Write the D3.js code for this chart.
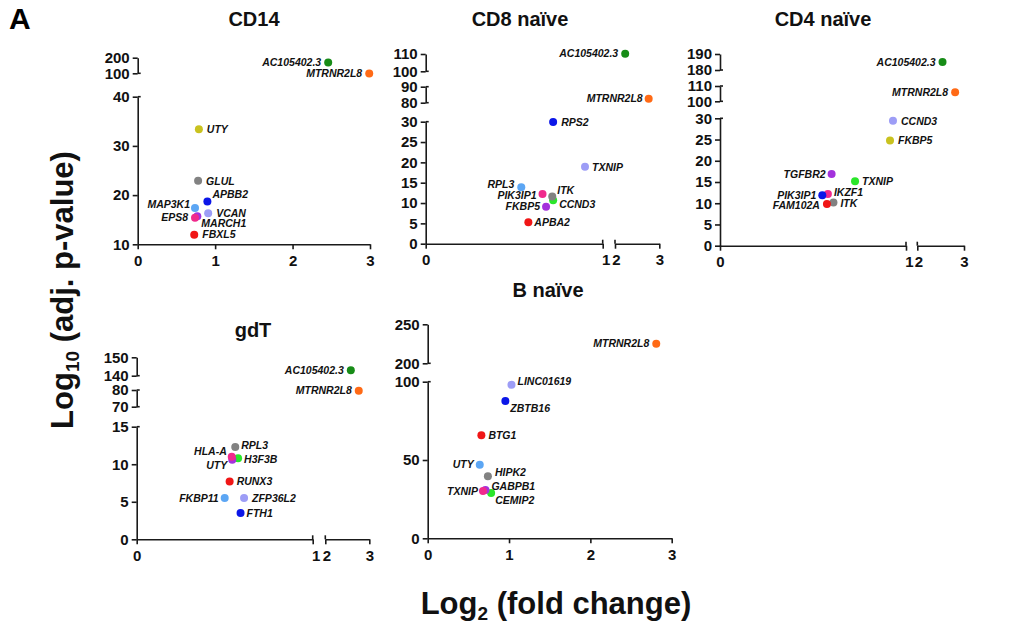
<!DOCTYPE html>
<html>
<head>
<meta charset="utf-8">
<script src="https://cdn.jsdelivr.net/npm/d3@7"></script>
<style>
  body { margin: 0; background: #fff; }
  text { font-family: "Liberation Sans", Arial, Helvetica, sans-serif; }
</style>
</head>
<body>
<div id="viz"></div>
<script>
// ---- data (log2 fold change, -log10 adj. p) ----
const cd14Genes = ["AC105402.3", "MTRNR2L8", "UTY", "GLUL", "APBB2", "MAP3K1", "VCAN", "MARCH1", "EPS8", "FBXL5"];
const cd14Fc = [2.46, 2.99, 0.79, 0.78, 0.9, 0.74, 0.91, 0.77, 0.74, 0.73];
const cd14P = [170, 99, 33.4, 22.9, 18.7, 17.4, 16.3, 15.7, 15.4, 11.95];

const cd8Genes = ["AC105402.3", "MTRNR2L8", "RPS2", "TXNIP", "RPL3", "PIK3IP1", "CCND3", "ITK", "FKBP5", "APBA2"];
const cd8Fc = [2.23, 2.76, 0.72, 0.9, 0.54, 0.66, 0.72, 0.715, 0.68, 0.58];
const cd8P = [110.2, 82.5, 29.9, 18.9, 13.9, 12.2, 10.7, 11.6, 9.1, 5.3];

const cd4Genes = ["AC105402.3", "MTRNR2L8", "CCND3", "FKBP5", "TGFBR2", "TXNIP", "IKZF1", "PIK3IP1", "ITK", "FAM102A"];
const cd4Fc = [2.54, 2.81, 0.93, 0.914, 0.6, 0.726, 0.58, 0.55, 0.61, 0.575];
const cd4P = [185, 105.9, 29.4, 24.8, 16.9, 15.2, 12.2, 11.9, 10.2, 9.8];

const gdtGenes = ["AC105402.3", "MTRNR2L8", "RPL3", "H3F3B", "UTY", "HLA-A", "RUNX3", "FKBP11", "ZFP36L2", "FTH1"];
const gdtFc = [2.58, 2.76, 0.56, 0.576, 0.543, 0.54, 0.528, 0.5, 0.61, 0.59];
const gdtP = [142.9, 79.6, 12.3, 10.8, 10.6, 11.0, 7.7, 5.5, 5.5, 3.5];

const bGenes = ["MTRNR2L8", "LINC01619", "ZBTB16", "BTG1", "UTY", "HIPK2", "CEMIP2", "GABPB1", "TXNIP"];
const bFc = [2.81, 1.03, 0.955, 0.66, 0.64, 0.74, 0.78, 0.71, 0.68];
const bP = [225, 98, 87.7, 65.8, 47, 39.6, 28.9, 30.8, 30.2];

// axis pieces (domains of each broken segment) and tick values
const cd14YSegs = [[10, 40], [100, 200]];
const cd14YTicks = [[10, 20, 30, 40], [100, 200]];
const cd8YSegs = [[0, 30], [80, 90], [100, 110]];
const cd8YTicks = [[0, 5, 10, 15, 20, 25, 30], [80, 90], [100, 110]];
const cd4YSegs = [[0, 30], [100, 110], [180, 190]];
const cd4YTicks = [[0, 5, 10, 15, 20, 25, 30], [100, 110], [180, 190]];
const gdtYSegs = [[0, 15], [70, 80], [140, 150]];
const gdtYTicks = [[0, 5, 10, 15], [70, 80], [140, 150]];
const bYSegs = [[0, 100], [200, 250]];
const bYTicks = [[0, 50, 100], [200, 250]];

const fullXSegs = [[0, 3]];
const fullXTicks = [[0, 1, 2, 3]];
const brokenXSegs = [[0, 1], [2, 3]];
const brokenXTicks = [[0, 1], [2, 3]];

// ---- styles ----
const palette = {
  dkgreen: "#178c17",
  orange: "#ff6a16",
  olive: "#c9c21f",
  gray: "#828282",
  blue: "#0b16e8",
  ltblue: "#5ca6f4",
  lavender: "#9d9df6",
  pink: "#f02a8c",
  purple: "#a332dc",
  red: "#f01616",
  green: "#2ae62a",
};
const cd14Colors = ["dkgreen", "orange", "olive", "gray", "blue", "ltblue", "lavender", "purple", "pink", "red"];
const cd8Colors = ["dkgreen", "orange", "blue", "lavender", "ltblue", "pink", "green", "gray", "purple", "red"];
const cd4Colors = ["dkgreen", "orange", "lavender", "olive", "purple", "green", "pink", "blue", "gray", "red"];
const gdtColors = ["dkgreen", "orange", "gray", "green", "purple", "pink", "red", "ltblue", "lavender", "blue"];
const bColors = ["orange", "lavender", "blue", "red", "ltblue", "gray", "green", "purple", "pink"];

// label offsets [dx, dy] from the dot; dx < 0 puts the label on the left
const cd14Labels = [[-7, 0], [-7, 0], [8, 0], [8, 0], [5, -7], [-5, -4], [8, 0], [4, 7], [-7, 0], [8, 0]];
const cd8Labels = [[-7, 0], [-6, 0], [8, 0], [7, 0], [-7, -3], [-6, 1], [6, 4], [5, -6], [-6, 0], [6, 0]];
const cd4Labels = [[-7, 0], [-7, 0], [8, 0], [8, 0], [-6, 0], [7, 0], [6, -2], [-6, 0], [7, 1], [-7, 1]];
const gdtLabels = [[-7, 0], [-7, 0], [6, -2], [6, 1], [-5, 6], [-5, -5], [7, 0], [-6, 0], [8, 0], [6, 0]];
const bLabels = [[-7, 0], [6, -4], [5, 7], [7, 0], [-6, 0], [7, -4], [4, 7], [6, -4], [-5, 0]];

const config = {
  width: 1029,
  height: 626,
  dotR: 4,
  axisColor: "#1a1a1a",
  tickSize: 5,
  tickFont: 15,
  labelFont: 10.5,
  titleFont: 20,
  axisTitleFont: 31,
};

const panels = [
  {
    title: "CD14", titleX: 254, titleY: 26,
    genes: cd14Genes, fc: cd14Fc, p: cd14P, colors: cd14Colors, labels: cd14Labels,
    xSegs: fullXSegs, xTicks: fullXTicks, xRanges: [[137.7, 370]],
    ySegs: cd14YSegs, yTicks: cd14YTicks, yRanges: [[244.3, 96.7], [73.3, 57.7]],
  },
  {
    title: "CD8 naïve", titleX: 520, titleY: 26,
    genes: cd8Genes, fc: cd8Fc, p: cd8P, colors: cd8Colors, labels: cd8Labels,
    xSegs: brokenXSegs, xTicks: brokenXTicks, xRanges: [[425.7, 602.7], [615, 659.3]],
    ySegs: cd8YSegs, yTicks: cd8YTicks, yRanges: [[243.7, 121.7], [102.7, 86.7], [71.3, 54]],
  },
  {
    title: "CD4 naïve", titleX: 823, titleY: 26,
    genes: cd4Genes, fc: cd4Fc, p: cd4P, colors: cd4Colors, labels: cd4Labels,
    xSegs: brokenXSegs, xTicks: brokenXTicks, xRanges: [[720, 906], [917.3, 964]],
    ySegs: cd4YSegs, yTicks: cd4YTicks, yRanges: [[245.7, 118.3], [101.3, 86], [70, 54]],
  },
  {
    title: "gdT", titleX: 253, titleY: 337,
    genes: gdtGenes, fc: gdtFc, p: gdtP, colors: gdtColors, labels: gdtLabels,
    xSegs: brokenXSegs, xTicks: brokenXTicks, xRanges: [[136.7, 312.7], [325.3, 369.3]],
    ySegs: gdtYSegs, yTicks: gdtYTicks, yRanges: [[539.3, 426.7], [406.7, 390], [375.7, 357.3]],
  },
  {
    title: "B naïve", titleX: 548, titleY: 297,
    genes: bGenes, fc: bFc, p: bP, colors: bColors, labels: bLabels,
    xSegs: fullXSegs, xTicks: fullXTicks, xRanges: [[427.7, 671.7]],
    ySegs: bYSegs, yTicks: bYTicks, yRanges: [[538.3, 381.7], [363.3, 324.3]],
  },
];

const createSvg = () =>
  d3.select("#viz")
    .append("svg")
    .attr("width", config.width)
    .attr("height", config.height)
    .style("background", "#fff");

// pick the segment a value belongs to (or the closest one)
const segScale = (scales, v) => {
  let best = scales[0];
  let bestDist = Infinity;
  scales.forEach((s) => {
    const [a, b] = s.domain();
    const d = v < a ? a - v : v > b ? v - b : 0;
    if (d < bestDist) {
      bestDist = d;
      best = s;
    }
  });
  return best(v);
};

const styleAxis = (g) => {
  g.selectAll("path, line")
    .attr("stroke", config.axisColor)
    .attr("stroke-width", 1.6);
  g.selectAll("text")
    .attr("fill", "#111")
    .attr("font-size", config.tickFont)
    .attr("font-weight", "bold")
    .attr("font-family", '"Liberation Sans", Arial, sans-serif');
};

const drawPanel = (svg, panel) => {
  const g = svg.append("g");
  const xScales = panel.xSegs.map((d, i) => d3.scaleLinear().domain(d).range(panel.xRanges[i]));
  const yScales = panel.ySegs.map((d, i) => d3.scaleLinear().domain(d).range(panel.yRanges[i]));
  const x0 = panel.xRanges[0][0];
  const y0 = panel.yRanges[0][0];

  // y axis pieces
  yScales.forEach((s, i) => {
    const ax = g.append("g")
      .attr("transform", `translate(${x0},0)`)
      .call(d3.axisLeft(s).tickValues(panel.yTicks[i]).tickSize(config.tickSize).tickSizeOuter(0).tickPadding(3).tickFormat(d3.format("d")));
    ax.select(".domain").attr("fill", "none");
    styleAxis(ax);
    // small break caps at the cut ends
    const ends = [];
    if (i > 0) ends.push(s.range()[0]);
    if (i < yScales.length - 1) ends.push(s.range()[1]);
    ends.forEach((y) => {
      g.append("line")
        .attr("x1", x0).attr("x2", x0 + 3)
        .attr("y1", y).attr("y2", y)
        .attr("stroke", config.axisColor).attr("stroke-width", 1.6);
    });
  });

  // x axis pieces
  xScales.forEach((s, i) => {
    const ax = g.append("g")
      .attr("transform", `translate(0,${y0})`)
      .call(d3.axisBottom(s).tickValues(panel.xTicks[i]).tickSize(config.tickSize).tickSizeOuter(0).tickPadding(6).tickFormat(d3.format("d")));
    ax.select(".domain").attr("fill", "none");
    styleAxis(ax);
    const ends = [];
    if (i > 0) ends.push(s.range()[0]);
    if (i < xScales.length - 1) ends.push(s.range()[1]);
    ends.forEach((x) => {
      g.append("line")
        .attr("x1", x).attr("x2", x)
        .attr("y1", y0).attr("y2", y0 - 4)
        .attr("stroke", config.axisColor).attr("stroke-width", 1.6);
    });
    // at a break the "1" and "2" sit close together, like in Prism
    if (xScales.length > 1) {
      ax.selectAll(".tick text").attr("dx", (d) => (d === 1 ? 3 : d === 2 ? 1 : 0));
    }
  });

  // title
  g.append("text")
    .attr("x", panel.titleX)
    .attr("y", panel.titleY)
    .attr("text-anchor", "middle")
    .attr("font-size", config.titleFont)
    .attr("font-weight", "bold")
    .attr("fill", "#111")
    .text(panel.title);

  const rows = panel.genes.map((gene, i) => ({
    gene,
    x: segScale(xScales, panel.fc[i]),
    y: segScale(yScales, panel.p[i]),
    color: palette[panel.colors[i]],
    off: panel.labels[i],
  }));

  g.selectAll("circle.dot")
    .data(rows)
    .join("circle")
    .attr("class", "dot")
    .attr("cx", (d) => d.x)
    .attr("cy", (d) => d.y)
    .attr("r", config.dotR)
    .attr("fill", (d) => d.color);

  g.selectAll("text.gene")
    .data(rows)
    .join("text")
    .attr("class", "gene")
    .attr("x", (d) => d.x + d.off[0])
    .attr("y", (d) => d.y + d.off[1])
    .attr("dy", "0.35em")
    .attr("text-anchor", (d) => (d.off[0] < 0 ? "end" : "start"))
    .attr("font-size", config.labelFont)
    .attr("font-weight", "bold")
    .attr("font-style", "italic")
    .attr("fill", "#111")
    .text((d) => d.gene);
};

const svg = createSvg();
panels.forEach((p) => drawPanel(svg, p));

// panel letter
svg.append("text")
  .attr("x", 9).attr("y", 29)
  .attr("font-size", 30).attr("font-weight", "bold")
  .text("A");

// shared axis titles
const yLab = svg.append("text")
  .attr("transform", "translate(73,290) rotate(-90)")
  .attr("text-anchor", "middle")
  .attr("font-size", config.axisTitleFont)
  .attr("font-weight", "bold")
  .attr("fill", "#111");
yLab.append("tspan").text("Log");
yLab.append("tspan").attr("font-size", 19).attr("dy", 6).text("10");
yLab.append("tspan").attr("dy", -6).text(" (adj. p-value)");

const xLab = svg.append("text")
  .attr("x", 556).attr("y", 614)
  .attr("text-anchor", "middle")
  .attr("font-size", config.axisTitleFont)
  .attr("font-weight", "bold")
  .attr("fill", "#111");
xLab.append("tspan").text("Log");
xLab.append("tspan").attr("font-size", 19).attr("dy", 6).text("2");
xLab.append("tspan").attr("dy", -6).text(" (fold change)");
</script>
</body>
</html>
